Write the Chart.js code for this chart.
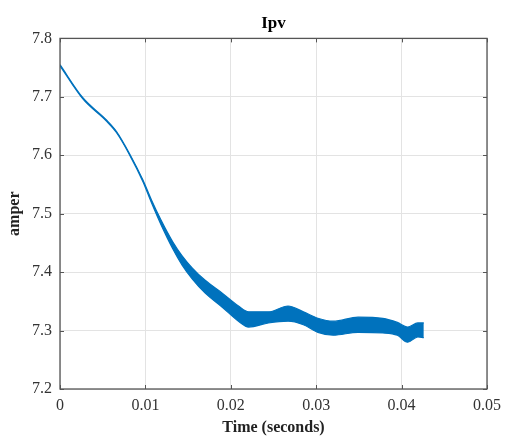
<!DOCTYPE html>
<html>
<head>
<meta charset="utf-8">
<script src="https://cdn.jsdelivr.net/npm/chart.js@4"></script>
<style>
  body { margin: 0; background: #fff; }
  canvas { display: block; }
</style>
</head>
<body>
<canvas id="graficoIpv" width="508" height="437"></canvas>
<script>
// tiempo (s) y envolvente superior / inferior de Ipv (A)
let tiempo = [0, 0.0027, 0.0054, 0.0066, 0.0081, 0.0097, 0.0107, 0.0118, 0.0132, 0.0143,
    0.0155, 0.0170, 0.0190, 0.0209, 0.0221, 0.0244, 0.0267, 0.0285, 0.0302, 0.0320,
    0.0349, 0.0378, 0.0395, 0.0407, 0.0419, 0.0426];
let ipvSuperior = [7.755, 7.698, 7.661, 7.641, 7.604, 7.558, 7.524, 7.490, 7.452, 7.428,
    7.407, 7.386, 7.364, 7.342, 7.332, 7.332, 7.342, 7.332, 7.321, 7.316,
    7.323, 7.321, 7.314, 7.306, 7.313, 7.313];
let ipvInferior = [7.753, 7.696, 7.659, 7.639, 7.602, 7.555, 7.519, 7.482, 7.440, 7.412,
    7.388, 7.364, 7.340, 7.316, 7.306, 7.313, 7.316, 7.310, 7.297, 7.292,
    7.297, 7.296, 7.292, 7.280, 7.289, 7.288];

let ticksX = [0, 0.01, 0.02, 0.03, 0.04, 0.05];
let ticksY = [7.2, 7.3, 7.4, 7.5, 7.6, 7.7, 7.8];

const azul = "#0072BD";
const serif = "'Liberation Serif', 'Times New Roman', serif";

// caja estilo MATLAB con marcas hacia dentro
const cajaPlugin = {
    id: "caja",
    afterDraw(chart) {
        const { ctx, chartArea: a, scales } = chart;
        ctx.save();
        ctx.strokeStyle = "#555";
        ctx.lineWidth = 1;
        ctx.beginPath();
        ticksX.forEach((t) => {
            const px = Math.round(scales.x.getPixelForValue(t)) + 0.5;
            ctx.moveTo(px, a.bottom); ctx.lineTo(px, a.bottom - 4);
            ctx.moveTo(px, a.top); ctx.lineTo(px, a.top + 4);
        });
        ticksY.forEach((v) => {
            const py = Math.round(scales.y.getPixelForValue(v)) + 0.5;
            ctx.moveTo(a.left, py); ctx.lineTo(a.left + 4, py);
            ctx.moveTo(a.right, py); ctx.lineTo(a.right - 4, py);
        });
        ctx.stroke();
        ctx.lineWidth = 1.3;
        ctx.strokeRect(a.left, a.top, a.right - a.left, a.bottom - a.top);
        ctx.restore();
    }
};

function puntos(valores) {
    return tiempo.map((t, i) => ({ x: t, y: valores[i] }));
}

const ctx = document.getElementById("graficoIpv").getContext("2d");
new Chart(ctx, {
    type: "line",
    data: {
        datasets: [
            {
                data: puntos(ipvSuperior),
                borderColor: azul,
                backgroundColor: azul,
                borderWidth: 1.2,
                pointRadius: 0,
                cubicInterpolationMode: "monotone",
                fill: "+1"
            },
            {
                data: puntos(ipvInferior),
                borderColor: azul,
                borderWidth: 1.2,
                pointRadius: 0,
                cubicInterpolationMode: "monotone",
                fill: false
            }
        ]
    },
    options: {
        responsive: false,
        animation: false,
        layout: { padding: 0 },
        plugins: {
            legend: { display: false },
            tooltip: { enabled: false },
            title: {
                display: true,
                text: "Ipv",
                fullSize: false,
                color: "#000",
                font: { family: serif, size: 17, weight: "bold" },
                padding: { top: 13, bottom: 5 }
            }
        },
        scales: {
            x: {
                type: "linear",
                min: 0,
                max: 0.05,
                afterBuildTicks: (axis) => { axis.ticks = ticksX.map((v) => ({ value: v })); },
                afterFit: (axis) => { axis.height = 48; },
                ticks: {
                    color: "#333",
                    font: { family: serif, size: 16 },
                    padding: 7,
                    maxRotation: 0,
                    callback: (v) => String(v)
                },
                grid: { color: "#e3e3e3", drawTicks: false },
                border: { display: false },
                title: {
                    display: true,
                    text: "Time (seconds)",
                    color: "#222",
                    font: { family: serif, size: 16, weight: "bold" },
                    padding: { top: 0, bottom: 0 }
                }
            },
            y: {
                min: 7.2,
                max: 7.8,
                afterBuildTicks: (axis) => { axis.ticks = ticksY.map((v) => ({ value: v })); },
                afterFit: (axis) => { axis.width = 60; },
                ticks: {
                    color: "#333",
                    font: { family: serif, size: 16 },
                    padding: 8,
                    callback: (v) => v.toFixed(1)
                },
                grid: { color: "#e3e3e3", drawTicks: false },
                border: { display: false },
                title: {
                    display: true,
                    text: "amper",
                    color: "#222",
                    font: { family: serif, size: 16, weight: "bold" },
                    padding: { top: 5, bottom: 0 }
                }
            }
        }
    },
    plugins: [cajaPlugin]
});
</script>
</body>
</html>
